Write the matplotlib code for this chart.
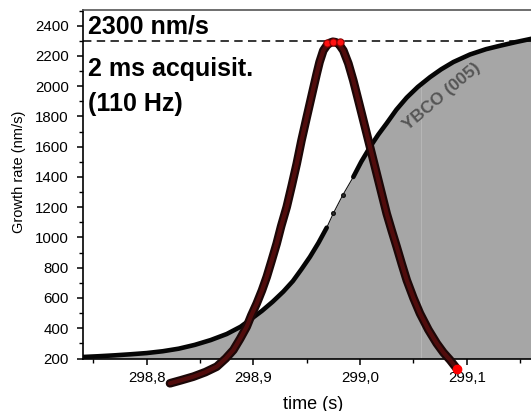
import numpy as np
import matplotlib
matplotlib.use("Agg")
import matplotlib.pyplot as plt
from matplotlib.ticker import MultipleLocator

# Growth-rate peak (nm/s) versus time (s)
rate_t = [298.8218, 298.8320, 298.8437, 298.8550, 298.8656, 298.8740, 298.8812,
          298.8875, 298.8937, 298.8980, 298.9031, 298.9080, 298.9125, 298.9170,
          298.9218, 298.9260, 298.9312, 298.9360, 298.9406, 298.9450, 298.9500,
          298.9550, 298.9593, 298.9620, 298.9655, 298.9690, 298.9720, 298.9745,
          298.9770, 298.9800, 298.9843, 298.9890, 298.9936, 298.9975, 299.0015,
          299.0054, 299.0093, 299.0132, 299.0171, 299.0210, 299.0249, 299.0296,
          299.0343, 299.0390, 299.0437, 299.0500, 299.0561, 299.0640, 299.0718,
          299.0780, 299.0843, 299.0911]
rate_v = [36, 56, 80, 110, 146, 200, 256, 330, 410, 485, 564, 650, 740, 845,
          960, 1075, 1202, 1345, 1488, 1640, 1796, 1950, 2082, 2160, 2236, 2272,
          2288, 2294, 2291, 2280, 2236, 2150, 2038, 1930, 1818, 1708, 1598, 1488,
          1378, 1268, 1158, 1046, 938, 826, 718, 600, 498, 390, 300, 240, 190, 129]

# Highlighted samples at the top of the peak
peak_t = [298.9687, 298.9743, 298.9809]
peak_v = [2285, 2295, 2290]

# YBCO (005) intensity trace, shown on the same axis
ybco_t = [298.740, 298.755, 298.770, 298.785, 298.800, 298.815, 298.830, 298.845,
          298.860, 298.875, 298.888, 298.898, 298.908, 298.918, 298.928, 298.937,
          298.945, 298.953, 298.961, 298.9687, 298.9749, 298.9837, 298.9936,
          299.0010, 299.0093, 299.0170, 299.0249, 299.0340, 299.0437, 299.0540,
          299.0655, 299.0760, 299.0874, 299.1030, 299.1180, 299.1325, 299.1460,
          299.1600, 299.1700]
ybco_v = [210, 215, 221, 228, 236, 248, 265, 290, 322, 362, 410, 462, 515, 575,
          642, 712, 790, 872, 965, 1065, 1160, 1280, 1400, 1500, 1598, 1680, 1755,
          1845, 1925, 1995, 2060, 2112, 2160, 2210, 2245, 2270, 2292, 2313, 2328]
sparse_window = (298.970, 298.990)
seam_t = 299.057

max_rate = 2300

x_ticks = [298.8, 298.9, 299.0, 299.1]
x_tick_labels = ["298,8", "298,9", "299,0", "299,1"]
y_ticks = list(range(200, 2401, 200))

plt.rcParams["font.family"] = ["Liberation Sans", "DejaVu Sans"]

W, H = 531, 411
fig = plt.figure(figsize=(W / 100, H / 100), dpi=100)
ax_left, ax_right, ax_top, ax_bottom = 82.5, 541.5, 10.0, 358.5
ax = fig.add_axes([ax_left / W, 1 - ax_bottom / H,
                   (ax_right - ax_left) / W, (ax_bottom - ax_top) / H])

ax.set_xlim(298.7398, 299.1700)
ax.set_ylim(200, 2504)

yt = np.array(ybco_t)
yv = np.array(ybco_v)

# filled YBCO area
ax.fill_between(yt, 200, yv, color="#a6a6a6", lw=0, zorder=1)
ax.plot([seam_t, seam_t], [200, np.interp(seam_t, yt, yv)], color="#b6b6b6",
        lw=0.8, zorder=1.5)

# YBCO trace: thick where sampled densely, thin with dots where sparse
in_gap = (yt > sparse_window[0]) & (yt < sparse_window[1])
ax.plot(yt, yv, color="#111111", lw=0.8, zorder=3)
ax.plot(np.where(in_gap, np.nan, yt), yv, color="#050505", lw=3.3,
        solid_capstyle="round", solid_joinstyle="round", zorder=3)
ax.plot(yt[in_gap], yv[in_gap], "o", ms=2.6, color="#333333", mec="#111111",
        zorder=3)

# growth rate band
ax.plot(rate_t, rate_v, color="#1c0707", lw=6.2, solid_capstyle="round",
        solid_joinstyle="round", zorder=4, clip_on=False)
ax.plot(rate_t, rate_v, color="#761111", lw=3.0, alpha=0.6,
        solid_capstyle="round", solid_joinstyle="round", zorder=4.1, clip_on=False)
ax.plot(peak_t, peak_v, "o", ms=5.2, mfc="#ff1010", mec="#8a0000", mew=0.8,
        zorder=5, clip_on=False)
ax.plot(rate_t[-1], rate_v[-1], "o", ms=6.0, mfc="#ff0000", mec="#ff0000",
        zorder=5, clip_on=False)

# maximum-rate reference
ax.axhline(max_rate, color="black", lw=1.1, ls=(0, (5.5, 3.5)), zorder=2)

ax.text(299.0765, 1935, "YBCO (005)", rotation=40, fontsize=12.5,
        fontweight="bold", color="#555555", ha="center", va="center", zorder=2.5)

# axes styling
for side in ("left", "bottom"):
    ax.spines[side].set_linewidth(1.2)
    ax.spines[side].set_color("black")
ax.spines["top"].set_linewidth(1.2)
ax.spines["top"].set_color("#555555")
ax.spines["right"].set_visible(False)

ax.set_xticks(x_ticks)
ax.set_xticklabels(x_tick_labels)
ax.xaxis.set_minor_locator(MultipleLocator(0.05))
ax.set_yticks(y_ticks)
ax.yaxis.set_minor_locator(MultipleLocator(100))
ax.tick_params(axis="both", which="major", direction="out", length=4.3, width=1.1,
               labelsize=10.8, colors="black")
ax.tick_params(axis="both", which="minor", direction="out", length=2.8, width=1.0)
ax.tick_params(axis="y", which="major", pad=5.5)
ax.tick_params(axis="x", which="major", pad=4.5)
ax.tick_params(top=False, right=False, which="both")

fig.text(19 / W, 1 - 172 / H, "Growth rate (nm/s)", rotation=90, fontsize=10.5,
         ha="center", va="center")
fig.text(313 / W, 1 - 404 / H, "time (s)", fontsize=13, ha="center", va="center")

for label, x, y in [("2300 nm/s", 88.5, 33), ("2 ms acquisit.", 88, 76),
                    ("(110 Hz)", 88, 111)]:
    fig.text(x / W, 1 - y / H, label, fontsize=18, fontweight="bold",
             ha="left", va="baseline", zorder=6)

fig.savefig("out.png", dpi=100)
